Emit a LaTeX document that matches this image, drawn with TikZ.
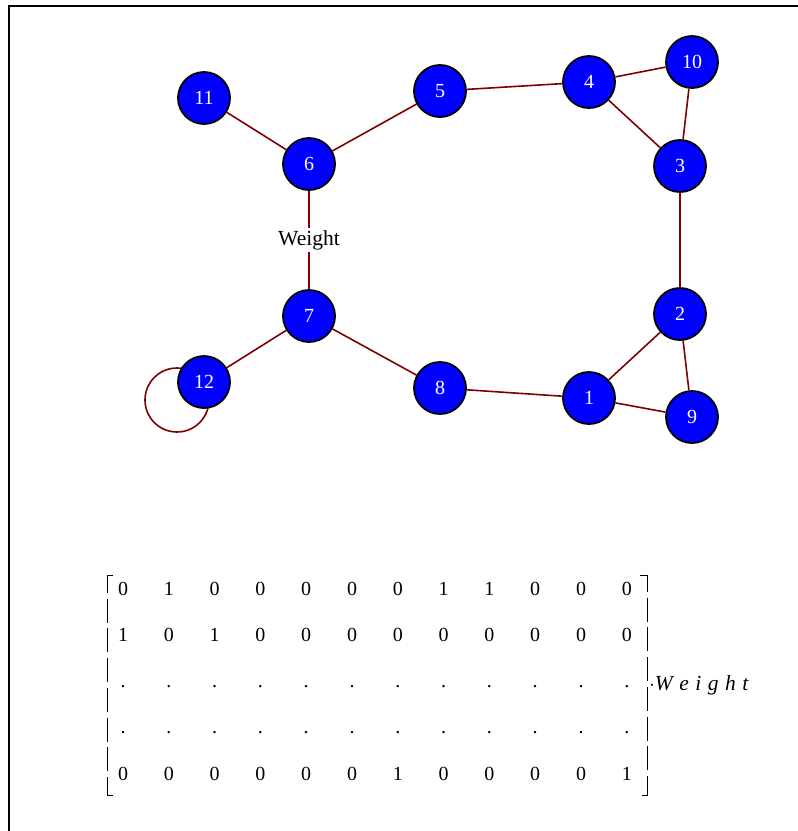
\documentclass[tikz,border=0pt]{standalone}
\usepackage{fontspec}
\setmainfont{Liberation Serif}
\usetikzlibrary{backgrounds}
\definecolor{edgered}{RGB}{128,0,0}
\tikzset{
  vertex/.style={circle, draw=black, line width=1.8pt, fill=blue, text=white,
    minimum size=52pt, inner sep=0pt, font=\fontsize{20}{20}\selectfont},
  link/.style={draw=edgered, line width=1.6pt},
  entry/.style={anchor=base, inner sep=0pt, font=\fontsize{20}{20}\selectfont},
  bracket/.style={line width=0.8pt, dash pattern=on 24pt off 5.7pt},
}

\begin{document}
\begin{tikzpicture}[x=1pt,y=-1pt]
\useasboundingbox (0,0) rectangle (798,831);
% frame
\draw[line width=2pt] (9,831) -- (9,6) -- (798,6);
% vertices
\node[vertex] (n1) at (589,398) {1};
\node[vertex] (n2) at (680,314) {2};
\node[vertex] (n3) at (680,166) {3};
\node[vertex] (n4) at (589,82) {4};
\node[vertex] (n5) at (440,91) {5};
\node[vertex] (n6) at (309,164) {6};
\node[vertex] (n7) at (309,316) {7};
\node[vertex] (n8) at (440,388) {8};
\node[vertex] (n9) at (692,417) {9};
\node[vertex] (n10) at (692,62) {10};
\node[vertex] (n11) at (204,98) {11};
\node[vertex] (n12) at (204,382) {12};
% edges
\begin{pgfonlayer}{background}
\draw[link] (n11) -- (n6);
\draw[link] (n6) -- (n5);
\draw[link] (n5) -- (n4);
\draw[link] (n4) -- (n10);
\draw[link] (n4) -- (n3);
\draw[link] (n10) -- (n3);
\draw[link] (n3) -- (n2);
\draw[link] (n2) -- (n1);
\draw[link] (n2) -- (n9);
\draw[link] (n1) -- (n9);
\draw[link] (n1) -- (n8);
\draw[link] (n8) -- (n7);
\draw[link] (n7) -- (n12);
\draw[link] (n6) -- node[fill=white, inner sep=2pt, font=\fontsize{21.5}{21.5}\selectfont] (wlab) {Weight} (n7);
\draw[link] ([shift={(-27,18)}]n12.center) circle (32pt);
\end{pgfonlayer}
% adjacency matrix
\foreach \row [count=\r] in {{0,1,0,0,0,0,0,1,1,0,0,0},{1,0,1,0,0,0,0,0,0,0,0,0},{.,.,.,.,.,.,.,.,.,.,.,.},{.,.,.,.,.,.,.,.,.,.,.,.},{0,0,0,0,0,0,1,0,0,0,0,1}}
  \foreach \v [count=\c] in \row
    \node[entry] (m\r-\c) at ({123+45.8*(\c-1)},{595+46.25*(\r-1)}) {\v};
\draw[bracket] (113,575) -- (107,575) -- (107,795) -- (113,795);
\draw[bracket] (640,575) -- (647,575) -- (647,795) -- (640,795);
\node[anchor=base west, inner sep=0pt, font=\fontsize{21.5}{21.5}\selectfont] (factor) at (649,690)
  {$\cdot$\textit{W\kern6.5pt e\kern6.5pt i\kern6.5pt g\kern6.5pt h\kern6.5pt t}};
\end{tikzpicture}
\end{document}
